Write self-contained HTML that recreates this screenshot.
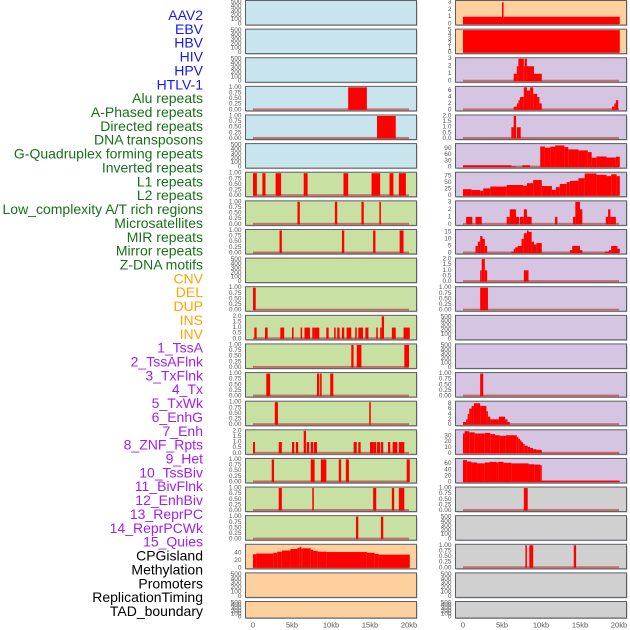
<!DOCTYPE html>
<html><head><meta charset="utf-8">
<style>
html,body{margin:0;padding:0;background:#fff;}
svg{display:block;}
</style></head>
<body>
<svg id="chart" width="630" height="630" xmlns="http://www.w3.org/2000/svg"></svg>
<script>
// ---------- labels ----------
const labelNames = ["AAV2","EBV","HBV","HIV","HPV","HTLV-1","Alu repeats","A-Phased repeats","Directed repeats","DNA transposons","G-Quadruplex forming repeats","Inverted repeats","L1 repeats","L2 repeats","Low_complexity A/T rich regions","Microsatellites","MIR repeats","Mirror repeats","Z-DNA motifs","CNV","DEL","DUP","INS","INV","1_TssA","2_TssAFlnk","3_TxFlnk","4_Tx","5_TxWk","6_EnhG","7_Enh","8_ZNF_Rpts","9_Het","10_TssBiv","11_BivFlnk","12_EnhBiv","13_ReprPC","14_ReprPCWk","15_Quies","CPGisland","Methylation","Promoters","ReplicationTiming","TAD_boundary"];
const labelGroups = [0,0,0,0,0,0,1,1,1,1,1,1,1,1,1,1,1,1,1,2,2,2,2,2,3,3,3,3,3,3,3,3,3,3,3,3,3,3,3,4,4,4,4,4];
const groupColors = ["#1818f0","#17701a","#ffa500","#a020f0","#000000"];

// ---------- axis tick sets ----------
const ticksEmpty = [0,100,200,300,400,500];
const ticksOne = [0,0.25,0.5,0.75,1];
const ticksTwo = [0,0.5,1,1.5,2];
const xTicks = [0,5,10,15,20];
const xTickLabels = ["0","5kb","10kb","15kb","20kb"];

// ---------- series data: [startKb, endKb, value] ----------
const L_alu = [[12.2,14.6,1]];
const L_directed = [[15.9,18.3,1]];
const L_l1 = [[0,0.5,1],[1.2,1.6,1],[2.9,3.6,1],[6.5,7.0,1],[11.6,12.2,1],[15.2,16.3,1],[17.5,18.0,1],[18.7,19.6,1]];
const L_lowc = [[5.7,6.0,1],[10.5,10.8,1],[13.9,14.2,1],[16.2,16.4,1]];
const L_mir = [[3.4,3.7,1],[11.4,11.7,1],[15.4,15.7,1],[18.8,19.3,1]];
const L_del = [[0,0.35,1]];
const L_ins = [[0.17,0.47,1],[1.54,1.88,1],[3.5,4.0,1],[5.0,5.2,1],[6.1,6.3,1],[6.6,7.3,1],[7.6,7.9,1],[7.9,8.5,1],[9.4,9.7,1],[10.4,10.6,1],[10.8,11.1,1],[11.4,11.7,1],[12.0,12.6,1],[13.1,13.3,1],[13.5,14.1,1],[14.4,14.8,1],[15.8,16.0,1],[16.3,16.5,1],[16.5,16.8,2],[17.8,18.3,1],[19.3,20.1,1]];
const L_tssa = [[12.6,12.9,1],[13.3,13.9,1],[19.4,20.0,1]];
const L_txflnk = [[1.7,2.2,1],[8.2,8.5,1],[8.6,8.8,1],[9.9,10.3,1]];
const L_txwk = [[2.8,3.2,1],[14.9,15.1,1]];
const L_znf = [[0,0.26,1],[3.3,3.7,1],[5.0,5.3,1],[5.5,5.8,1],[6.5,6.8,2],[6.9,7.2,1],[7.4,7.7,1],[7.8,8.2,1],[12.9,13.3,1],[13.5,13.8,1],[15.0,15.4,1],[15.4,15.8,1],[15.9,16.3,1],[16.4,16.7,1],[17.3,17.6,1],[17.9,18.5,1],[18.7,19.4,1]];
const L_tssbiv = [[2.4,2.7,1],[7.4,7.9,1],[8.7,9.4,1],[11.0,11.3,1],[11.9,12.3,1],[19.7,20.1,1]];
const L_enhbiv = [[3.3,3.7,1],[7.6,7.8,1],[15.4,15.8,1],[17.8,18.1,1],[18.7,19.4,1]];
const L_reprpc = [[13.2,13.5,1],[16.4,16.7,1]];
const L_cpg = [[0,0.4,36],[0.4,2.6,38],[2.6,3.1,40],[3.1,3.7,43],[3.7,4.8,46],[4.8,5.7,50],[5.7,6.0,53],[6.0,6.2,56],[6.2,6.4,51],[6.4,7.4,52],[7.4,7.7,48],[7.7,8.3,45],[8.3,9.4,43],[9.4,14.6,42],[14.6,15.6,40],[15.6,16.1,37],[16.1,20.1,35]];

const R_aav2 = [[0,5.0,1],[5.0,5.2,3],[5.2,20.1,1]];
const R_ebv = [[0,20.1,5]];
const R_hiv = [[6.5,6.9,1],[6.9,7.1,2],[7.1,7.8,3],[7.8,7.9,2],[7.9,8.2,3],[8.2,9.1,2],[9.1,10.1,1]];
const R_hpv = [[6.5,6.9,1],[6.9,7.1,2],[7.1,7.3,3],[7.3,7.8,4],[7.8,8.2,7],[8.2,8.6,6],[8.6,9.0,7],[9.0,9.5,5],[9.5,9.8,4],[9.8,10.1,2],[19.1,19.4,1],[19.4,19.6,2],[19.6,19.9,3]];
const R_htlv = [[6.2,6.5,1],[6.5,6.8,2],[6.9,7.4,1]];
const R_dna = [[0,6.2,9],[6.2,6.8,3],[7.6,8.6,9],[9.9,10.5,99],[10.5,11.2,93],[11.2,11.8,98],[11.8,13.0,104],[13.0,13.5,96],[13.5,14.8,85],[14.8,16.0,80],[16.0,16.5,72],[16.5,17.1,45],[17.1,18.4,51],[18.4,19.6,46],[19.6,20.1,50]];
const R_gquad = [[0,1.1,25],[1.1,2.2,22],[2.2,2.6,19],[2.6,3.5,28],[3.5,5.6,35],[5.6,7.7,41],[7.7,8.2,38],[8.2,9.0,48],[9.0,10.1,60],[10.1,11.4,37],[11.4,11.9,22],[11.9,12.4,33],[12.4,13.3,45],[13.3,13.7,52],[13.7,14.8,57],[14.8,15.6,67],[15.6,17.1,85],[17.1,18.4,80],[18.4,19.0,75],[19.0,19.7,82],[19.7,20.1,75]];
const R_inverted = [[0.4,1.2,1],[1.6,2.4,1],[5.6,6.0,1],[6.0,6.8,2],[6.8,7.2,1],[7.3,7.8,1],[7.8,8.2,2],[8.2,8.8,1],[11.8,12.1,1],[14.1,14.4,1],[14.4,15.0,3],[15.0,15.3,2],[18.3,18.6,1],[18.6,18.9,2],[18.9,19.6,1]];
const R_l1 = [[1.6,1.9,5],[1.9,2.2,8],[2.2,2.5,12],[2.5,2.8,10],[2.8,3.1,5],[6.2,6.5,1],[6.5,6.7,3],[6.7,7.0,4],[7.0,7.5,5],[7.5,7.8,10],[7.8,8.2,14],[8.2,8.4,16],[8.4,8.8,15],[8.8,9.1,8],[9.1,9.4,6],[9.4,10.1,7],[13.7,14.0,2],[14.0,15.0,5],[15.0,15.3,2],[18.2,18.7,1],[18.7,19.0,2],[19.0,19.8,5],[19.8,20.1,3]];
const R_l2 = [[2.2,2.4,1],[2.4,2.8,2],[2.8,3.1,1],[7.8,8.4,1]];
const R_lowc = [[2.2,3.2,1]];
const R_mirror = [[2.2,2.6,1]];
const R_zdna = [[0,0.4,1],[0.4,0.6,2],[0.6,0.8,4],[0.8,1.1,6],[1.1,1.4,7],[1.4,2.2,8],[2.2,3.0,7],[3.0,3.2,5],[3.2,3.5,3],[3.5,4.6,2],[4.6,5.4,3],[5.4,5.7,2],[5.7,6.0,1]];
const R_cnv = [[0,0.2,34],[0.2,0.8,38],[0.8,1.5,36],[1.5,2.8,34],[2.8,3.5,35],[3.5,4.1,33],[4.1,4.7,31],[4.7,5.5,30],[5.5,6.9,31],[6.9,7.1,28],[7.1,7.3,25],[7.3,7.5,22],[7.5,7.7,19],[7.7,7.9,16],[7.9,8.3,13],[8.3,8.6,11],[8.6,9.0,9],[9.0,9.4,7],[9.4,10.1,6],[10.1,20.1,0.6]];
const R_del = [[0,0.5,72],[0.5,1.1,67],[1.1,1.8,64],[1.8,2.8,61],[2.8,3.4,64],[3.4,4.3,66],[4.3,4.5,64],[4.5,5.2,66],[5.2,6.2,63],[6.2,8.4,61],[8.4,9.2,58],[9.2,9.9,57],[9.9,10.1,55],[10.1,20.1,4]];
const R_dup = [[7.8,8.3,1]];
const R_ins = [[8.0,8.2,1],[8.5,9.0,1],[14.2,14.5,1]];

// ---------- panel layout ----------
const BG = {blue:"#c8e4ec",green:"#c8e1a3",orange:"#fed09e",purple:"#d6c5e2",grey:"#d0d0d0"};
function P(bg,segs,ticks,yMax,dec,name){return {bg,segs,ticks,yMax,dec,name};}
const E = (bg,n)=>P(bg,null,ticksEmpty,510,0,n);
const rows = [
 [E("blue","aav2-left"), P("orange",R_aav2,[0,1,2,3],3.1,0,"aav2-right")],
 [E("blue","ebv-left"), P("orange",R_ebv,[0,1,2,3,4,5],5,0,"ebv-right")],
 [E("blue","hbv-left"), P("purple",R_hiv,[0,1,2,3],3,0,"hiv-right")],
 [P("blue",L_alu,ticksOne,1,2,"alu-left"), P("purple",R_hpv,[0,2,4,6],7,0,"hpv-right")],
 [P("blue",L_directed,ticksOne,1,2,"directed-left"), P("purple",R_htlv,ticksTwo,2,1,"htlv-right")],
 [E("blue","dna-left"), P("purple",R_dna,[0,30,60,90],108,0,"dna-right")],
 [P("green",L_l1,ticksOne,1,2,"l1-left"), P("purple",R_gquad,[0,25,50,75],86,0,"gquad-right")],
 [P("green",L_lowc,ticksOne,1,2,"lowc-left"), P("purple",R_inverted,[0,1,2,3],3,0,"inverted-right")],
 [P("green",L_mir,ticksOne,1,2,"mir-left"), P("purple",R_l1,[0,5,10,15],16,0,"l1-right")],
 [E("green","zdna-left"), P("purple",R_l2,ticksTwo,2,1,"l2-right")],
 [P("green",L_del,ticksOne,1,2,"del-left"), P("purple",R_lowc,ticksOne,1,2,"lowc-right")],
 [P("green",L_ins,ticksTwo,2,1,"ins-left"), E("purple","micro-right")],
 [P("green",L_tssa,ticksOne,1,2,"tssa-left"), E("purple","mir-right")],
 [P("green",L_txflnk,ticksOne,1,2,"txflnk-left"), P("purple",R_mirror,ticksOne,1,2,"mirror-right")],
 [P("green",L_txwk,ticksOne,1,2,"txwk-left"), P("purple",R_zdna,[0,2,4,6,8],8.4,0,"zdna-right")],
 [P("green",L_znf,ticksTwo,2,1,"znf-left"), P("purple",R_cnv,[0,10,20,30],38.6,0,"cnv-right")],
 [P("green",L_tssbiv,ticksOne,1,2,"tssbiv-left"), P("purple",R_del,[0,20,40,60],74,0,"del-right")],
 [P("green",L_enhbiv,ticksOne,1,2,"enhbiv-left"), P("grey",R_dup,ticksOne,1,2,"dup-right")],
 [P("green",L_reprpc,ticksOne,1,2,"reprpc-left"), E("grey","inv-right")],
 [P("orange",L_cpg,[0,20,40],60,0,"cpg-left"), P("grey",R_ins,ticksOne,1,2,"ins-right")],
 [E("orange","promoters-left"), E("grey","promoters-right")],
 [E("orange","tad-left"), E("grey","tad-right")]
];

const NS = "http://www.w3.org/2000/svg";
const svg = document.getElementById("chart");
function mk(tag, attrs, parent){const e=document.createElementNS(NS,tag);for(const k in attrs)e.setAttribute(k,attrs[k]);(parent||svg).appendChild(e);return e;}

// labels
labelNames.forEach((t,i)=>{
  const el = mk("text",{x:203,y:15+i*13.86,"text-anchor":"end","dominant-baseline":"central","font-family":"Liberation Sans, sans-serif","font-size":"14",fill:groupColors[labelGroups[i]]});
  el.textContent = t;
  
  
});

const colX = [245.5, 455.5];
const panelW = 171;
function xScale(col, kb){return colX[col] + 7.5 + kb/20*156;}

rows.forEach((row,ri)=>{
  const top = 0.5 + ri*28.62;
  const h = ri===21 ? 16.5 : 24.5;
  row.forEach((p,ci)=>{
    const g = mk("g",{});
    
    
    mk("rect",{x:colX[ci]+1,y:top+1,width:panelW,height:h,fill:"#bbb"},g);
    const bg = mk("rect",{x:colX[ci],y:top,width:panelW,height:h,fill:BG[p.bg],stroke:"#5a5f66","stroke-width":1},g);
    
    
    const y0 = top + h - 1;
    const ys = v => y0 - v/p.yMax*(h-2);
    // y ticks
    p.ticks.forEach(tv=>{
      const t = mk("text",{x:colX[ci]-4,y:ys(tv),"text-anchor":"end","dominant-baseline":"central","font-family":"Liberation Sans, sans-serif","font-size":"6.5",fill:"#555"},g);
      t.textContent = p.dec ? tv.toFixed(p.dec) : String(tv);
      
      
    });
    if(p.segs){
      const base = mk("rect",{x:xScale(ci,0),y:y0-1.5,width:xScale(ci,20)-xScale(ci,0),height:2,fill:"#c05555",opacity:0.8},g);
      
      
      p.segs.forEach(s=>{
        const x1 = xScale(ci,s[0]), x2 = xScale(ci,s[1]);
        const b = mk("rect",{x:x1,y:ys(s[2]),width:Math.max(1,x2-x1),height:y0-ys(s[2]),fill:"#ff0000"},g);
        
        
      });
    }
  });
});

// x axis labels
[0,1].forEach(ci=>{
  xTicks.forEach((kb,i)=>{
    const t = mk("text",{x:xScale(ci,kb),y:625,"text-anchor":"middle","dominant-baseline":"central","font-family":"Liberation Sans, sans-serif","font-size":"7.5",fill:"#555"});
    t.textContent = xTickLabels[i];
    
    
  });
});
</script>
</body></html>
